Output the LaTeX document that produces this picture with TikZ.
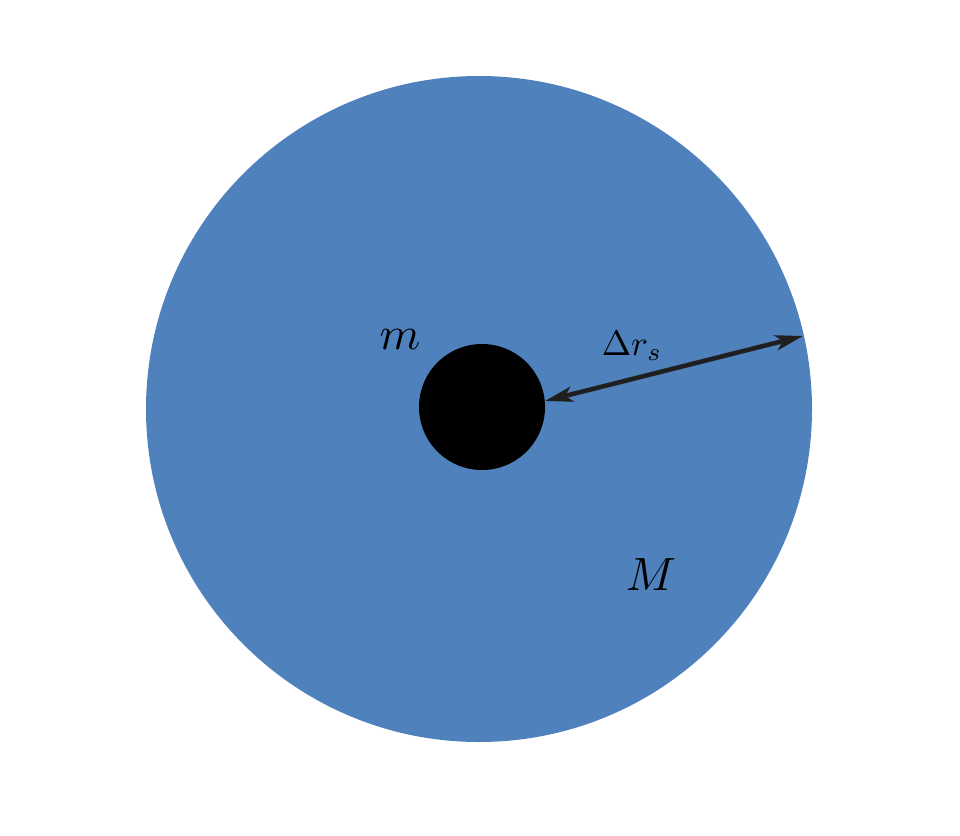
\documentclass[tikz,border=0pt]{standalone}
\usetikzlibrary{arrows.meta}
\definecolor{bigblue}{RGB}{79,129,189}
\tikzset{
  lbl/.style={inner sep=0pt, text=black},
  dimarrow/.style={line width=3.3pt, draw=black!88, {Stealth[length=20pt,width=11pt,inset=5pt]}-{Stealth[length=20pt,width=11pt,inset=5pt]}}
}
\begin{document}
\begin{tikzpicture}[x=0.01in,y=-0.01in]
\useasboundingbox (0,0) rectangle (960,836);
\fill[bigblue] (479,409) circle (333);
\fill[black] (482,407) circle (63);
\coordinate (inner) at (545,401);
\coordinate (outer) at (803,336);
\draw[dimarrow] (inner) -- (outer);
\node[lbl, scale=3.35] (m) at (400,340) {$m$};
\node[lbl, scale=3.37] (M) at (651,575) {$M$};
\node[lbl, scale=2.55] (dr) at (632,346) {$\Delta r_s$};
\end{tikzpicture}
\end{document}
